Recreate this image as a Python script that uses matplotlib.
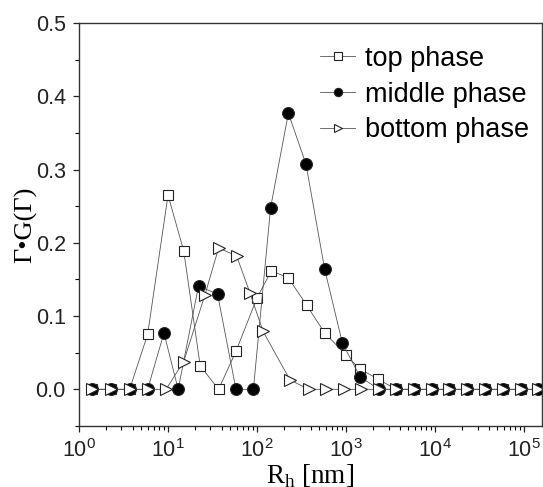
import matplotlib
matplotlib.use('Agg')
from matplotlib import pyplot as plt
from matplotlib.ticker import LogLocator, MultipleLocator, NullFormatter

plt.rcParams['font.family'] = ['Liberation Sans', 'DejaVu Sans']

# size distributions (R_h in nm)
top_x = [1.4, 2.3, 3.7, 5.9, 10, 15, 23, 37, 58, 100, 145, 225, 360, 575, 1000,
         1420, 2290, 3630, 5750, 9120, 14500, 22900, 36300, 57500, 91200, 145000]
top_y = [0, 0, 0, 0.075, 0.265, 0.189, 0.032, 0, 0.052, 0.125, 0.162, 0.152, 0.115,
         0.077, 0.047, 0.028, 0.014, 0, 0, 0, 0, 0, 0, 0, 0, 0]

mid_x = [1.4, 2.3, 3.7, 5.9, 9, 13, 22, 36, 58, 91, 142, 225, 355, 575, 910,
         1440, 2340, 3630, 5750, 9120, 14500, 22900, 36300, 57500, 91200, 145000]
mid_y = [0, 0, 0, 0, 0.077, 0, 0.141, 0.130, 0, 0, 0.248, 0.377, 0.307, 0.164,
         0.063, 0.017, 0, 0, 0, 0, 0, 0, 0, 0, 0, 0]

bot_x = [1.4, 2.3, 3.7, 5.9, 9.5, 15, 26, 37, 59, 83, 117, 234, 380, 600, 940,
         1480, 2340, 3630, 5750, 9120, 14500, 22900, 36300, 57500, 91200, 145000]
bot_y = [0, 0, 0, 0, 0, 0.038, 0.129, 0.193, 0.182, 0.132, 0.079, 0.013, 0, 0,
         0, 0, 0, 0, 0, 0, 0, 0, 0, 0, 0, 0]

fig = plt.figure(figsize=(5.43, 4.87), dpi=100)
ax = fig.add_axes([0.1455, 0.1253, 0.8527, 0.8275])

line_kw = dict(color='#555555', lw=0.6, markeredgecolor='#222222', markeredgewidth=0.8)
ax.plot(top_x, top_y, marker='s', ms=7.5, markerfacecolor='white', label='top phase', **line_kw)
ax.plot(mid_x, mid_y, marker='o', ms=8.5, markerfacecolor='black', label='middle phase', **line_kw)
ax.plot(bot_x, bot_y, marker='>', ms=9, markerfacecolor='white', label='bottom phase', **line_kw)

ax.set_xscale('log')
ax.set_xlim(1, 1.59e5)
ax.set_ylim(-0.05, 0.5)
ax.xaxis.set_major_locator(LogLocator(base=10, numticks=10))
ax.xaxis.set_minor_locator(LogLocator(base=10, subs=range(2, 10), numticks=20))
ax.xaxis.set_minor_formatter(NullFormatter())
ax.yaxis.set_major_locator(MultipleLocator(0.1))
ax.yaxis.set_minor_locator(MultipleLocator(0.05))
ax.yaxis.set_major_formatter(plt.FormatStrFormatter('%.1f'))

ax.tick_params(which='major', direction='out', length=4.5, width=0.9, labelsize=15.5,
               colors='#222222', pad=5)
ax.tick_params(which='minor', direction='out', length=3, width=0.8)
for s in ax.spines.values():
    s.set_linewidth(1.0)
    s.set_color('#333333')

ax.set_xlabel(r'R$_\mathdefault{h}$ [nm]', family='Liberation Serif', fontsize=19.5, labelpad=0.5)
ax.set_ylabel('Γ•G(Γ)', family='Liberation Serif', fontsize=19, labelpad=-1)

ax.legend(loc='upper right', frameon=False, fontsize=19.5, handlelength=1.3,
          handletextpad=0.35, labelspacing=0.36, markerscale=0.7,
          borderaxespad=0.0, bbox_to_anchor=(0.995, 0.97))

plt.savefig('out.png', dpi=100)
